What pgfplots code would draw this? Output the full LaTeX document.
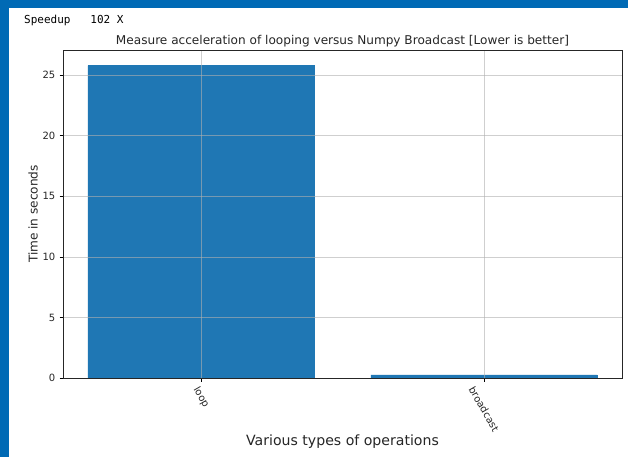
\documentclass[border=0pt]{standalone}
\usepackage{fontspec}
\setmainfont{DejaVu Sans}
\setmonofont{DejaVu Sans Mono}
\usepackage{graphicx}
\usepackage{pgfplots}
\pgfplotsset{compat=1.18}
\definecolor{barblue}{HTML}{1F77B4}
\definecolor{frameblue}{HTML}{006AB5}
\definecolor{gridgray}{HTML}{B0B0B0}
\begin{document}
\begin{tikzpicture}[x=1pt,y=1pt]
\path[use as bounding box] (0,0) rectangle (628,457);
\fill[white] (0,0) rectangle (628,457);
\fill[frameblue] (0,0) rectangle (9,457);
\fill[frameblue] (0,449) rectangle (628,457);
\node[anchor=base west, inner sep=0pt, font=\ttfamily\fontsize{11}{13}\selectfont] at (24,433.5) {Speedup\ \ \ 102\ X};
\begin{axis}[
  at={(63pt,79pt)}, anchor=south west,
  scale only axis, width=559pt, height=328pt,
  xmin=-0.488, xmax=1.488, ymin=0, ymax=27.09,
  ybar, bar width=0.8,
  xtick={0,1},
  xticklabels={\rotatebox{-60}{loop},\rotatebox{-60}{broadcast}},
  ytick={0,5,10,15,20,25},
  xtick pos=bottom, ytick pos=left,
  tick align=outside,
  major tick length=3.5pt,
  every tick/.style={black, line width=0.8pt},
  axis line style={line width=0.8pt, black!85},
  grid=major,
  major grid style={gridgray, line width=0.8pt, opacity=0.6},
  axis on top,
  /pgf/number format/assume math mode=true,
  tick label style={font=\fontsize{10}{12}\selectfont, text=black!85},
  xticklabel style={anchor=north, inner sep=0pt, yshift=-4pt},
  yticklabel style={inner sep=0pt, xshift=-4pt},
  title={Measure acceleration of looping versus Numpy Broadcast [Lower is better]},
  title style={font=\fontsize{12.1}{14}\selectfont, at={(axis description cs:0.5,1)}, anchor=base, yshift=-1pt, text=black!85},
  ylabel={Time in seconds},
  ylabel style={font=\fontsize{12.1}{14}\selectfont, at={(axis description cs:0,0.5)}, anchor=center, yshift=30pt, text=black!85},
  xlabel={Various types of operations},
  xlabel style={font=\fontsize{14.1}{17}\selectfont, at={(axis description cs:0.5,0)}, anchor=center, yshift=-64pt, text=black!85},
]
\addplot[fill=barblue, draw=barblue, line width=0.4pt] coordinates {(0,25.8) (1,0.25)};
\end{axis}
\end{tikzpicture}
\end{document}
